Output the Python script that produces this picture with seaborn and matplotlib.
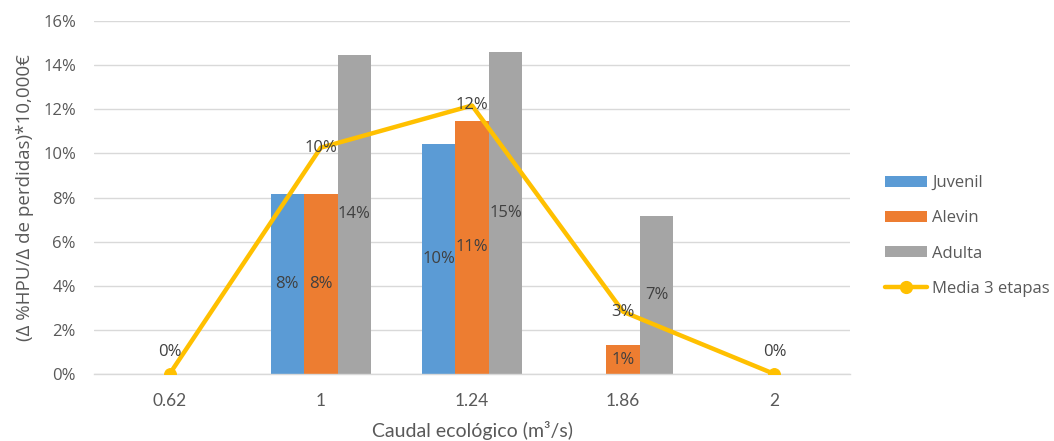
import numpy as np
import pandas as pd
import matplotlib
matplotlib.use("Agg")
import matplotlib.pyplot as plt
import seaborn as sns
from matplotlib.patches import Patch
from matplotlib.lines import Line2D

categories = ["0.62", "1", "1.24", "1.86", "2"]
juvenil = [0.0, 8.16, 10.43, 0.0, 0.0]
alevin = [0.0, 8.16, 11.47, 1.31, 0.0]
adulta = [0.0, 14.46, 14.60, 7.16, 0.0]
media = [0.0, 10.26, 12.17, 2.82, 0.0]
series_names = ["Juvenil", "Alevin", "Adulta"]
line_name = "Media 3 etapas"
yticks = [0, 2, 4, 6, 8, 10, 12, 14, 16]

colors = {"Juvenil": "#5B9BD5", "Alevin": "#ED7D31", "Adulta": "#A5A5A5"}
line_color = "#FFC000"
text_color = "#595959"
label_color = "#404040"

sns.set_theme(style="white")
plt.rcParams["font.family"] = ["Open Sans", "DejaVu Sans"]

df = pd.DataFrame({
    "cat": categories * 3,
    "val": juvenil + alevin + adulta,
    "serie": sum([[n] * len(categories) for n in series_names], []),
})

fig = plt.figure(figsize=(10.54, 4.41), dpi=100)
ax = fig.add_axes([94 / 1054, 1 - 374 / 441, (850 - 94) / 1054, (374 - 21) / 441])

sns.barplot(data=df, x="cat", y="val", hue="serie", order=categories,
            hue_order=series_names, palette=colors, width=0.665, gap=0,
            dodge=True, ax=ax, legend=False, saturation=1, edgecolor="none",
            errorbar=None)

for cont, name in zip(ax.containers, series_names):
    labs = [f"{v:.0f}%" if v > 0 else "" for v in cont.datavalues]
    ax.bar_label(cont, labels=labs, label_type="center", color=label_color,
                 fontsize=12)

xpos = np.arange(len(categories))
zero_idx = [i for i, v in enumerate(media) if v == 0]
sns.lineplot(x=xpos, y=media, color=line_color, lw=3.2, ax=ax, marker="o",
             markersize=8.5, markeredgecolor=line_color, markevery=zero_idx,
             legend=False, zorder=5)

for i, v in enumerate(media):
    if v == 0:
        ax.annotate(f"{v:.0f}%", (xpos[i], v), xytext=(0, 10), textcoords="offset points",
                    ha="center", va="bottom", color=label_color, fontsize=12, zorder=6)
    else:
        ax.annotate(f"{v:.0f}%", (xpos[i], v), ha="center", va="center",
                    color=label_color, fontsize=12, zorder=6)

ax.set_xlim(-0.5, len(categories) - 0.5)
ax.set_ylim(0, 16)
ax.set_yticks(yticks)
ax.set_yticklabels([f"{t}%" for t in yticks])
ax.yaxis.grid(True, color="#D9D9D9", lw=1)
ax.set_axisbelow(True)
for s in ["top", "right", "left"]:
    ax.spines[s].set_visible(False)
ax.spines["bottom"].set_color("#D9D9D9")
ax.spines["bottom"].set_linewidth(1)
ax.tick_params(axis="both", length=0, colors=text_color)
ax.tick_params(axis="y", pad=13, labelsize=12)
ax.tick_params(axis="x", pad=14, labelsize=12.5)
for t in ax.get_xticklabels():
    t.set_family(["Lato", "DejaVu Sans"])

ax.set_xlabel("Caudal ecológico (m³/s)", color=text_color, fontsize=14,
              family=["Lato", "DejaVu Sans"])
ax.xaxis.set_label_coords(0.5, -(421 - 374) / 353)
ax.set_ylabel("(Δ %HPU/Δ de perdidas)*10,000€", color=text_color, fontsize=13.5)
ax.yaxis.set_label_coords(-(94 - 34) / (850 - 94), 0.5)

handles = [Patch(facecolor=colors[n], edgecolor="none") for n in series_names]
handles.append(Line2D([0], [0], color=line_color, lw=3.2, marker="o", markersize=8.5))
fig.legend(handles, series_names + [line_name], loc="upper left",
           bbox_to_anchor=(877 / 1054, 1 - 167 / 441), frameon=False,
           fontsize=12, labelcolor=text_color, handlelength=2.5,
           handleheight=0.6, labelspacing=1.15, handletextpad=0.3, borderpad=0)

fig.savefig("out.png", dpi=100)
